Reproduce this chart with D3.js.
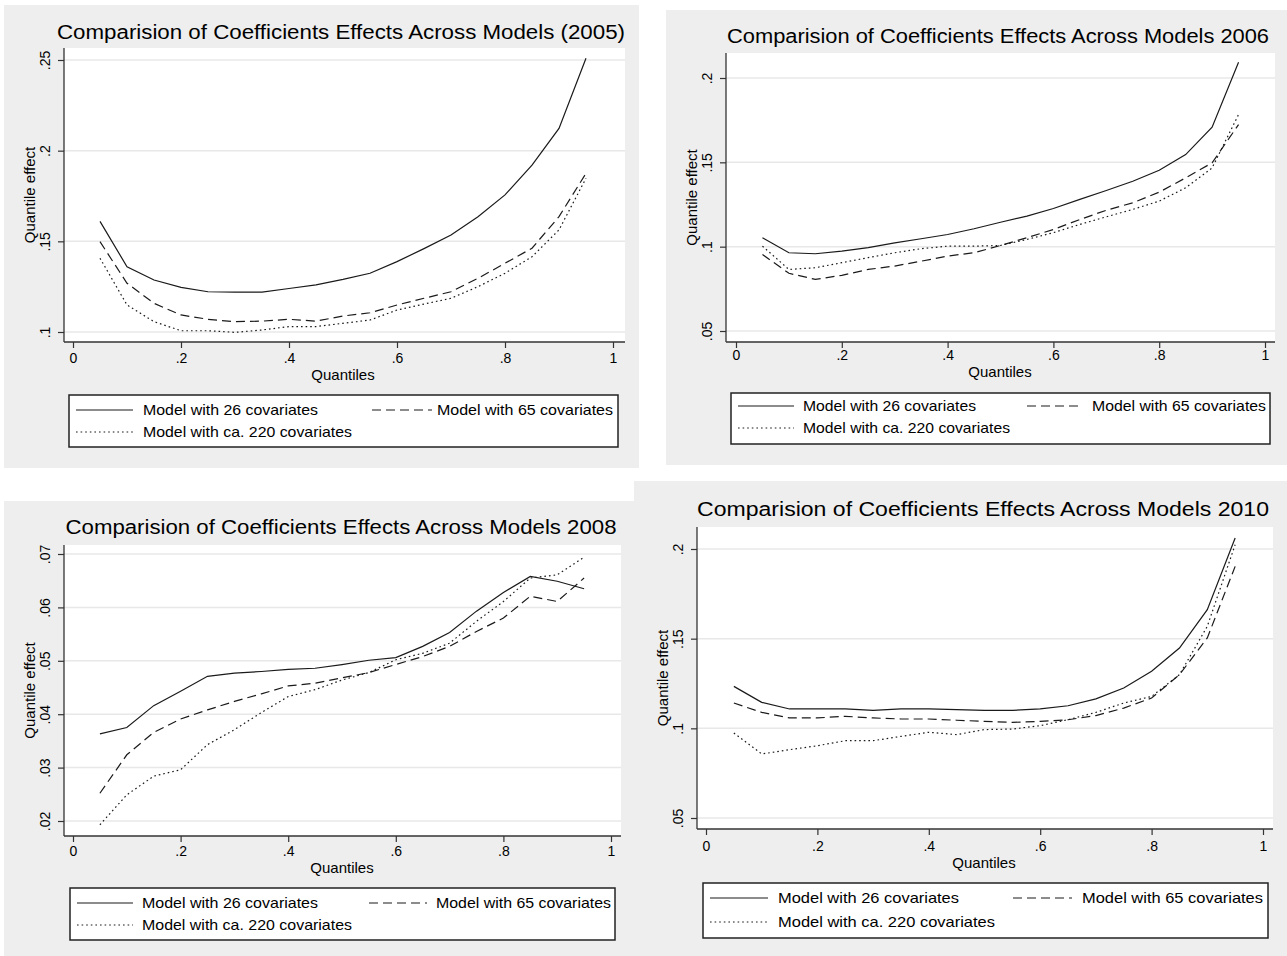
<!DOCTYPE html>
<html>
<head>
<meta charset="utf-8">
<script src="https://cdn.jsdelivr.net/npm/d3@7"></script>
<style>
  body { margin: 0; background: #fff; }
  svg { display: block; font-family: "Liberation Sans", Arial, sans-serif; }
</style>
</head>
<body>
<svg width="1287" height="956"></svg>
<script>
// quantiles on the x axis
const quantiles = [0.05, 0.10, 0.15, 0.20, 0.25, 0.30, 0.35, 0.40, 0.45, 0.50,
                   0.55, 0.60, 0.65, 0.70, 0.75, 0.80, 0.85, 0.90, 0.95];

const seriesNames = ["Model with 26 covariates", "Model with 65 covariates", "Model with ca. 220 covariates"];
const xTicks = [0, 0.2, 0.4, 0.6, 0.8, 1];

// 2005
const cov26_2005 = [.161, .136, .1287, .1246, .1222, .122, .122, .124, .126, .129,
                    .1324, .1388, .146, .1535, .1636, .1756, .192, .2123, .251];
const cov65_2005 = [.1498, .1269, .1158, .1094, .107, .1057, .106, .107, .106, .1088,
                    .1106, .1149, .1186, .1222, .1296, .1379, .1462, .1636, .1875];
const cov220_2005 = [.1407, .1149, .1057, .1007, .1007, .0998, .1011, .103, .103, .1048,
                     .1066, .1121, .1154, .1186, .125, .1324, .1415, .1563, .1848];
const yTicks_2005 = [0.1, 0.15, 0.2, 0.25];

// 2006
const cov26_2006 = [.1053, .0964, .0958, .0974, .0994, .1023, .1047, .1072, .1106, .1145,
                    .1181, .1226, .128, .1333, .1388, .1453, .1546, .1708, .2093];
const cov65_2006 = [.0954, .0842, .0806, .083, .0865, .0885, .0914, .0944, .0964, .1007,
                    .1053, .1102, .1161, .1216, .126, .1323, .1408, .1497, .1724];
const cov220_2006 = [.1003, .0865, .0875, .0905, .0935, .0964, .0988, .1003, .1003, .1007,
                     .1043, .1083, .1132, .1177, .1221, .127, .1349, .1467, .1783];
const yTicks_2006 = [0.05, 0.1, 0.15, 0.2];

// 2008
const cov26_2008 = [.0363, .0375, .0416, .0443, .0471, .0477, .048, .0484, .0486, .0493,
                    .0501, .0506, .0527, .0553, .0593, .0628, .0658, .0649, .0635];
const cov65_2008 = [.0252, .0324, .0366, .0391, .0408, .0424, .0438, .0453, .0458, .0468,
                    .0478, .0493, .0508, .0527, .0555, .058, .0621, .0611, .0655];
const cov220_2008 = [.0193, .0249, .0284, .0296, .0343, .0371, .0403, .0433, .0446, .0464,
                     .0478, .0502, .0514, .0533, .0574, .0611, .0655, .0661, .0694];
const yTicks_2008 = [0.02, 0.03, 0.04, 0.05, 0.06, 0.07];

// 2010
const cov26_2010 = [.1234, .1145, .1108, .1108, .1108, .11, .1108, .1108, .1104, .11,
                    .11, .1108, .1126, .1164, .1225, .1318, .1448, .1662, .2061];
const cov65_2010 = [.1141, .1089, .1058, .1058, .1067, .1058, .1052, .1052, .1045, .1039,
                    .1033, .1039, .1048, .1071, .1113, .1169, .1299, .1504, .1903];
const cov220_2010 = [.0974, .0857, .0881, .0903, .0931, .0931, .0955, .0978, .0965, .0993,
                     .0996, .1015, .1048, .1089, .1141, .1178, .1299, .1569, .2024];
const yTicks_2010 = [0.05, 0.1, 0.15, 0.2];

const dashes = ["none", "9,5", "1.6,3"];

const panels = [
  { title: "Comparision of Coefficients Effects Across Models (2005)",
    series: [cov26_2005, cov65_2005, cov220_2005], yTicks: yTicks_2005,
    bg: [4, 5, 635, 463], titleX: 341, titleY: 39, titleW: 568,
    plot: [64, 48, 625, 342], xr: [73, 613], yr: [332, 60],
    xlabY: 380, xlabX: 343,
    legend: { box: [69, 395, 618, 447], rows: [410, 432], col1: [76, 133, 143], col2: [372, 432, 437],
              widths: [175, 176, 209] } },
  { title: "Comparision of Coefficients Effects Across Models 2006",
    series: [cov26_2006, cov65_2006, cov220_2006], yTicks: yTicks_2006,
    bg: [666, 10, 621, 455], titleX: 998, titleY: 43, titleW: 542,
    plot: [726, 53, 1275, 342], xr: [736, 1265], yr: [331, 78],
    xlabY: 377, xlabX: 1000,
    legend: { box: [731, 393, 1270, 444], rows: [406, 428], col1: [738, 794, 803], col2: [1027, 1083, 1092],
              widths: [173, 174, 207] } },
  { title: "Comparision of Coefficients Effects Across Models 2008",
    series: [cov26_2008, cov65_2008, cov220_2008], yTicks: yTicks_2008,
    bg: [4, 501, 630, 455], titleX: 341, titleY: 534, titleW: 551,
    plot: [64, 545, 621, 836], xr: [73, 611], yr: [821, 554],
    xlabY: 873, xlabX: 342,
    legend: { box: [70, 888, 615, 940], rows: [903, 925], col1: [77, 133, 142], col2: [369, 427, 436],
              widths: [176, 175, 210] } },
  { title: "Comparision of Coefficients Effects Across Models 2010",
    series: [cov26_2010, cov65_2010, cov220_2010], yTicks: yTicks_2010,
    bg: [634, 481, 653, 475], titleX: 983, titleY: 516, titleW: 572,
    plot: [697, 527, 1273, 829], xr: [706, 1263], yr: [818, 549],
    xlabY: 868, xlabX: 984,
    legend: { box: [703, 883, 1268, 938], rows: [898, 922], col1: [710, 768, 778], col2: [1013, 1072, 1082],
              widths: [181, 181, 217] } }
];

const svg = d3.select("svg");
const fmt = d => d === 0 ? "0" : String(+d.toFixed(2)).replace(/^0\./, ".");

function drawPanel(p) {
  const g = svg.append("g");
  g.append("rect")
    .attr("x", p.bg[0]).attr("y", p.bg[1])
    .attr("width", p.bg[2]).attr("height", p.bg[3])
    .attr("fill", "#eeeeee");

  // plot region
  g.append("rect")
    .attr("x", p.plot[0]).attr("y", p.plot[1])
    .attr("width", p.plot[2] - p.plot[0]).attr("height", p.plot[3] - p.plot[1])
    .attr("fill", "#fff");

  const x = d3.scaleLinear().domain([0, 1]).range(p.xr);
  const yT = p.yTicks;
  const y = d3.scaleLinear().domain([yT[0], yT[yT.length - 1]]).range(p.yr);

  // gridlines
  g.selectAll(".grid").data(yT).enter().append("line")
    .attr("x1", p.plot[0]).attr("x2", p.plot[2])
    .attr("y1", d => y(d)).attr("y2", d => y(d))
    .attr("stroke", "#e8e8e8").attr("stroke-width", 1.5);

  // title
  g.append("text")
    .attr("x", p.titleX).attr("y", p.titleY)
    .attr("text-anchor", "middle")
    .attr("font-size", 20)
    .attr("textLength", p.titleW).attr("lengthAdjust", "spacingAndGlyphs")
    .attr("fill", "#000")
    .text(p.title);

  // x axis
  const xAxis = g.append("g")
    .attr("transform", `translate(0,${p.plot[3]})`)
    .call(d3.axisBottom(x).tickValues(xTicks).tickFormat(fmt).tickSize(6).tickSizeOuter(0));
  xAxis.select(".domain").attr("d", `M${p.plot[0]},0H${p.plot[2]}`).attr("stroke", "#333").attr("stroke-width", 1.3);
  xAxis.selectAll(".tick line").attr("stroke", "#333").attr("stroke-width", 1.2);
  xAxis.selectAll(".tick text")
    .attr("font-family", "Liberation Sans, Arial, sans-serif")
    .attr("font-size", 14).attr("fill", "#000")
    .attr("y", 0).attr("dy", 0)
    .attr("transform", `translate(0,${p.xlabY - 17 - p.plot[3]})`);

  // y axis
  const yAxis = g.append("g")
    .attr("transform", `translate(${p.plot[0]},0)`)
    .call(d3.axisLeft(y).tickValues(yT).tickFormat(fmt).tickSize(6).tickSizeOuter(0));
  yAxis.select(".domain").attr("d", `M0,${p.plot[1]}V${p.plot[3]}`).attr("stroke", "#333").attr("stroke-width", 1.3);
  yAxis.selectAll(".tick line").attr("stroke", "#333").attr("stroke-width", 1.2);
  yAxis.selectAll(".tick text")
    .attr("font-family", "Liberation Sans, Arial, sans-serif")
    .attr("font-size", 14).attr("fill", "#000")
    .attr("text-anchor", "middle")
    .attr("x", 0).attr("y", -14).attr("dy", 0)
    .attr("transform", "rotate(-90)");

  // axis titles
  g.append("text")
    .attr("x", p.xlabX).attr("y", p.xlabY)
    .attr("text-anchor", "middle").attr("font-size", 15)
    .text("Quantiles");
  g.append("text")
    .attr("transform", `translate(${p.plot[0] - 29},${(p.plot[1] + p.plot[3]) / 2}) rotate(-90)`)
    .attr("text-anchor", "middle").attr("font-size", 15)
    .text("Quantile effect");

  // lines
  const line = d3.line().x((d, i) => x(quantiles[i])).y(d => y(d));
  p.series.forEach((s, k) => {
    g.append("path")
      .datum(s)
      .attr("d", line)
      .attr("fill", "none")
      .attr("stroke", "#1a1a1a")
      .attr("stroke-width", 1.2)
      .attr("stroke-dasharray", dashes[k]);
  });

  // legend
  const L = p.legend;
  g.append("rect")
    .attr("x", L.box[0]).attr("y", L.box[1])
    .attr("width", L.box[2] - L.box[0]).attr("height", L.box[3] - L.box[1])
    .attr("fill", "#fff").attr("stroke", "#222").attr("stroke-width", 1.5);
  const items = [
    { c: L.col1, r: L.rows[0] },
    { c: L.col2, r: L.rows[0] },
    { c: L.col1, r: L.rows[1] }
  ];
  items.forEach((it, k) => {
    g.append("line")
      .attr("x1", it.c[0]).attr("x2", it.c[1])
      .attr("y1", it.r).attr("y2", it.r)
      .attr("stroke", "#1a1a1a").attr("stroke-width", 1.2)
      .attr("stroke-dasharray", dashes[k]);
    g.append("text")
      .attr("x", it.c[2]).attr("y", it.r + 5)
      .attr("font-size", 15)
      .attr("textLength", L.widths[k]).attr("lengthAdjust", "spacingAndGlyphs")
      .text(seriesNames[k]);
  });
}

panels.forEach(drawPanel);
</script>
</body>
</html>
